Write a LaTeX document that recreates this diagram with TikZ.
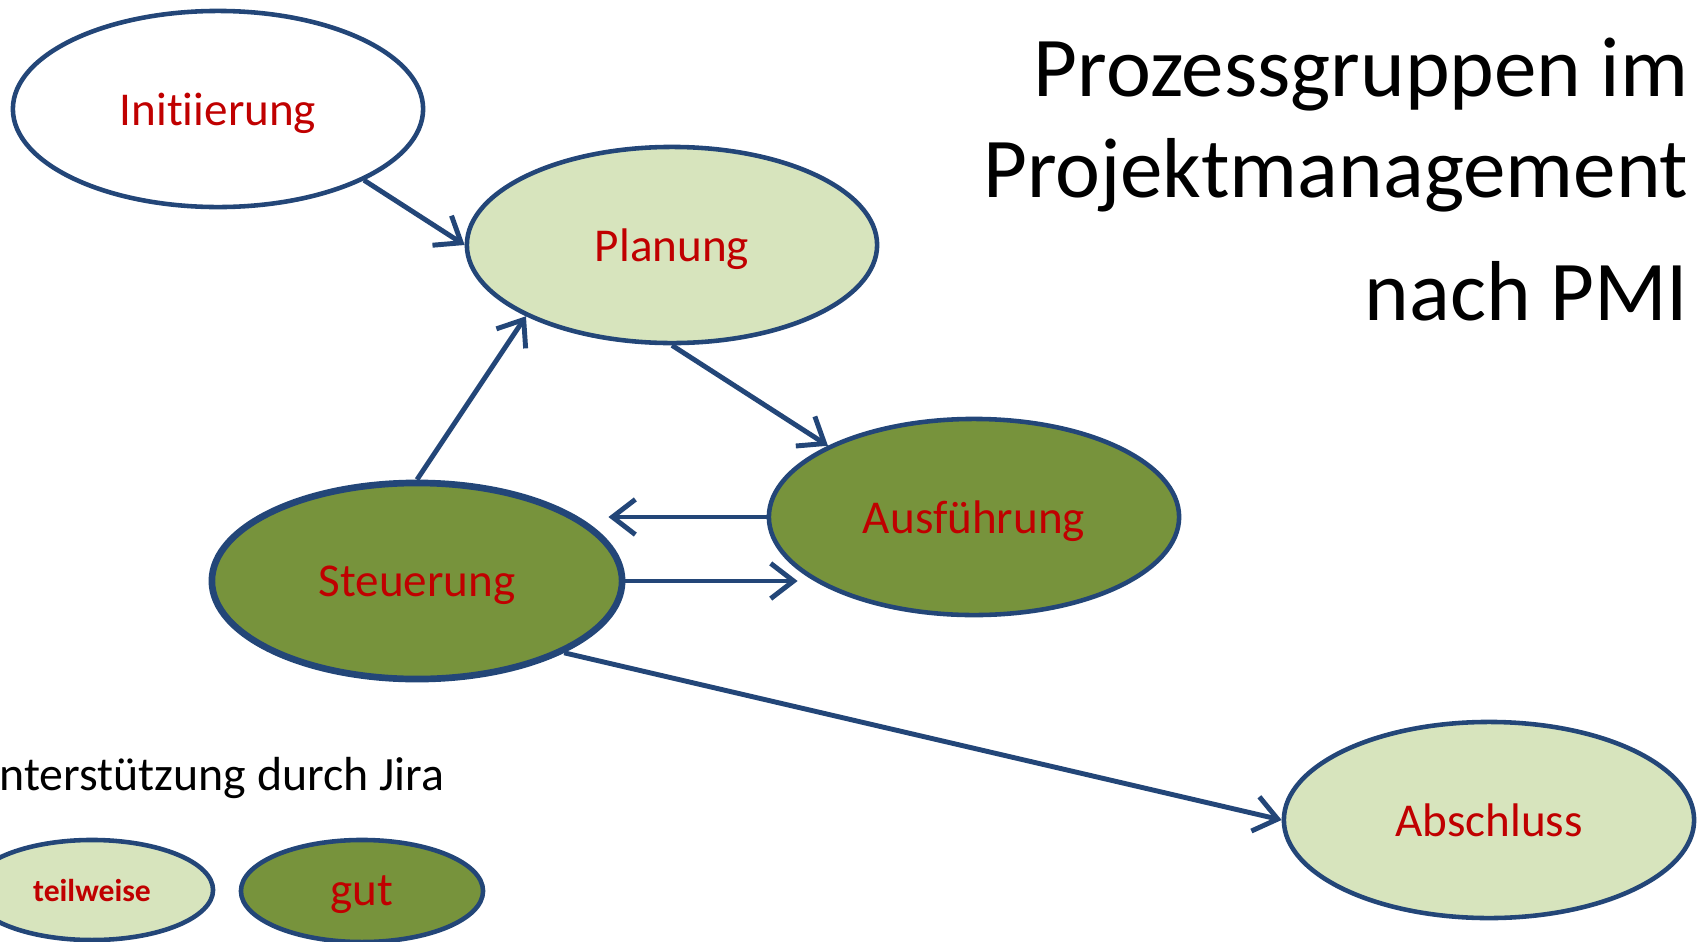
\documentclass[tikz,border=0pt]{standalone}
\usepackage{fontspec}
\setmainfont[Ligatures=CommonOff]{Carlito}
\usetikzlibrary{shapes.geometric, arrows.meta}
\definecolor{pmiblue}{RGB}{35,70,120}
\definecolor{pmilight}{RGB}{215,228,189}
\definecolor{pmidark}{RGB}{119,147,60}
\definecolor{pmired}{RGB}{192,0,0}

\begin{document}
\begin{tikzpicture}[x=0.01cm, y=-0.01cm,
    proc/.style={ellipse, draw=pmiblue, line width=1.3pt, minimum width=4.1cm,
      minimum height=1.96cm, inner sep=0pt, text=pmired, text depth=0pt,
      font=\fontsize{13.4}{16}\selectfont},
    title/.style={anchor=base east, inner sep=0pt, font=\fontsize{24.2}{29}\selectfont},
    flow/.style={draw=pmiblue, line width=1.4pt, -{Straight Barb[length=6.5pt,width=10pt]}}]
  \useasboundingbox (0,0) rectangle (1702,942);
  % process groups
  \node[proc] (ini) at (218,109) {Initiierung};
  \node[proc, fill=pmilight] (plan) at (672,245) {Planung};
  \node[proc, fill=pmidark] (ausf) at (974,517) {Ausführung};
  \node[proc, fill=pmidark, line width=1.9pt] (steu) at (417,581) {Steuerung};
  \node[proc, fill=pmilight] (absch) at (1489,820) {Abschluss};
  % title, right aligned
  \node[title] (t1) at (1689,96) {Prozessgruppen im};
  \node[title] (t2) at (1689,197) {Projektmanagement};
  \node[title] (t3) at (1689,320) {nach PMI};
  % arrows between the groups
  \draw[flow] (ini.-26) -- (plan.west);
  \draw[flow] (steu.north) -- (plan.-154);
  \draw[flow] (plan.south) -- (ausf.154);
  \draw[flow, shorten >=-0.17cm] (ausf.west) -- (ausf.west -| steu.east);
  \draw[flow, shorten >=-0.31cm] (steu.east) -- (steu.east -| ausf.west);
  \draw[flow] (steu.-26) -- (absch.west);
  % legend
  \node[anchor=base east, inner sep=0pt, font=\fontsize{13.6}{16}\selectfont] (jira) at (445,790) {Unterstützung durch Jira};
  \node[proc, fill=pmilight, minimum width=2.42cm, minimum height=1cm,
    font=\bfseries\fontsize{9}{11}\selectfont] (teil) at (92,890) {teilweise};
  \node[proc, fill=pmidark, minimum width=2.42cm, minimum height=1.02cm] (gut) at (362,891) {gut};
\end{tikzpicture}
\end{document}
